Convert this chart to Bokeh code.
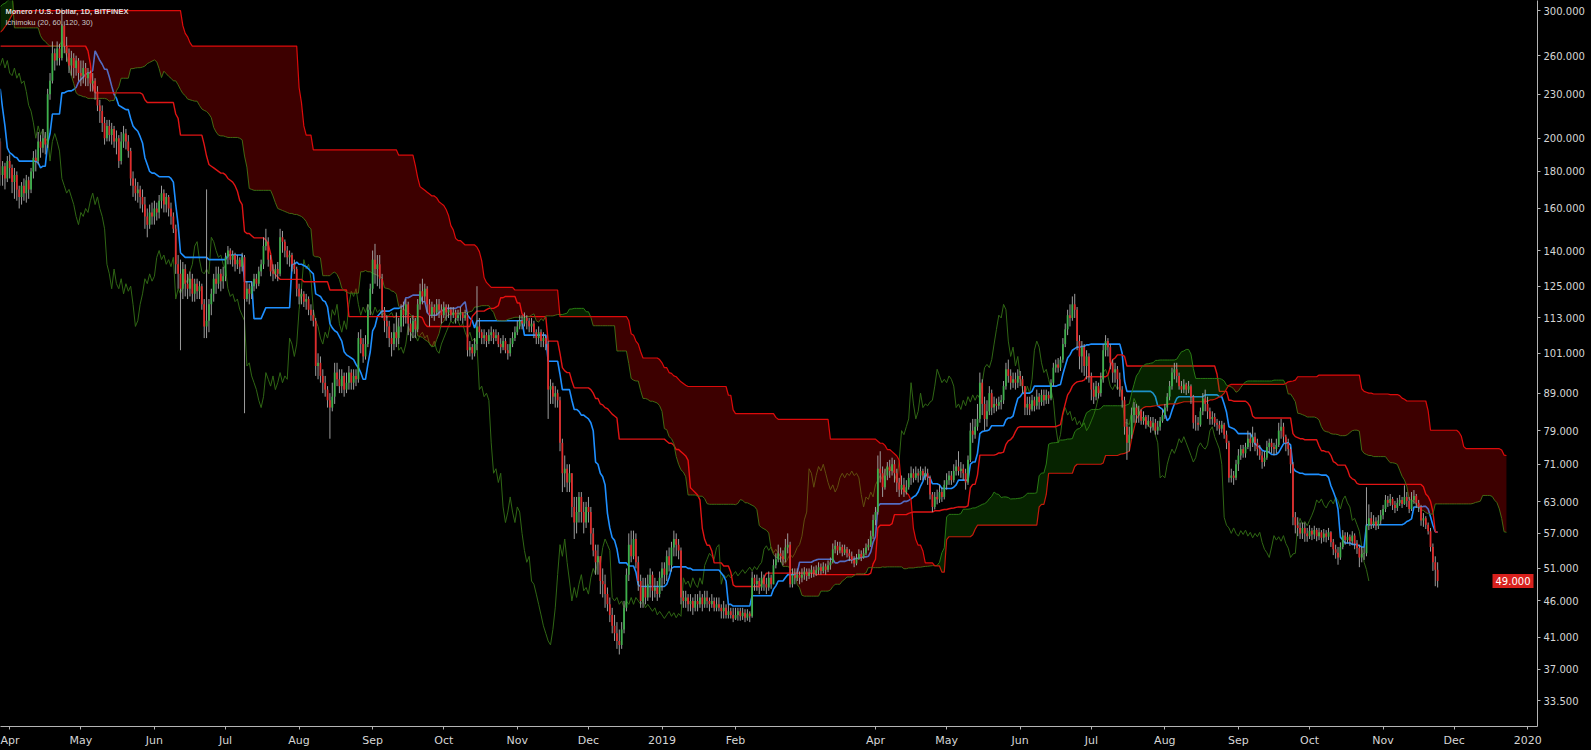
import numpy as np
import pandas as pd
from bokeh.plotting import figure
from bokeh.models import Range1d, FixedTicker, PrintfTickFormatter, Label
from bokeh.embed import file_html
from bokeh.resources import INLINE

try:
    from bokeh.models import GlobalInlineStyleSheet
except Exception:
    GlobalInlineStyleSheet = None

# ---------------- data: daily XMR/USD candles (close, high, low) ----------------
# history before the visible window (needed only by the Ichimoku look-back)
c_2017_10 = [70]
h_2017_10 = [74]
l_2017_10 = [62]
c_2017_11 = [74, 80, 86, 94, 100, 108, 116, 124, 132, 140, 148, 154, 160, 166, 172, 174, 178, 182, 186, 184, 190, 196, 194, 200, 206, 212, 208, 216, 222, 218]
h_2017_11 = [78, 83, 89, 97, 103, 111, 119, 127, 135, 143, 151, 157, 163, 169, 176, 179, 182, 186, 190, 189, 195, 200, 199, 205, 211, 217, 214, 221, 227, 224]
l_2017_11 = [66, 72, 78, 86, 94, 100, 106, 114, 122, 130, 138, 146, 152, 158, 164, 168, 171, 175, 179, 178, 183, 188, 187, 192, 198, 204, 200, 207, 213, 210]
c_2017_12 = [226, 232, 240, 248, 256, 262, 270, 262, 276, 284, 292, 300, 312, 318, 330, 342, 350, 362, 376, 388, 372, 332, 318, 340, 352, 346, 358, 366, 360, 372, 380]
h_2017_12 = [232, 238, 246, 254, 262, 268, 276, 270, 282, 290, 298, 308, 318, 326, 338, 350, 358, 370, 386, 398, 392, 374, 336, 346, 358, 356, 364, 372, 370, 378, 388]
l_2017_12 = [216, 222, 230, 238, 246, 252, 258, 254, 260, 272, 282, 290, 300, 306, 316, 328, 338, 348, 360, 372, 360, 318, 300, 314, 336, 338, 342, 354, 352, 358, 368]
c_2018_01 = [384, 396, 410, 404, 418, 428, 436, 420, 426, 410, 418, 424, 430, 414, 404, 330, 316, 340, 356, 372, 350, 330, 342, 336, 348, 332, 340, 352, 344, 316, 300]
h_2018_01 = [390, 402, 416, 414, 424, 436, 444, 440, 436, 430, 428, 434, 440, 436, 498, 470, 456, 450, 440, 430, 374, 354, 350, 348, 356, 350, 346, 358, 356, 348, 322]
l_2018_01 = [370, 378, 392, 394, 400, 414, 422, 412, 412, 402, 406, 410, 418, 404, 396, 318, 296, 310, 334, 350, 340, 318, 324, 326, 332, 322, 326, 336, 314, 302, 286]
c_2018_02 = [280, 256, 250, 226, 198, 210, 222, 238, 246, 240, 232, 262, 268, 298, 316, 322, 336, 312, 324, 330, 308, 292, 304, 296, 300, 318, 330, 338]
h_2018_02 = [304, 284, 266, 254, 232, 216, 234, 246, 252, 252, 244, 266, 272, 302, 322, 328, 344, 340, 330, 346, 332, 312, 310, 308, 306, 324, 336, 346]
l_2018_02 = [270, 236, 238, 220, 176, 156, 198, 214, 232, 230, 224, 228, 256, 264, 294, 308, 318, 302, 306, 318, 298, 280, 286, 284, 288, 294, 314, 326]
c_2018_03a = [344, 352, 358, 350, 366, 342, 312, 296, 268, 246, 218, 206, 202, 194, 198, 204, 196, 192, 200, 206, 202, 198, 204, 208, 202, 196, 198]
h_2018_03a = [350, 358, 364, 362, 434, 368, 346, 314, 280, 262, 240, 212, 208, 204, 202, 208, 206, 198, 204, 210, 208, 204, 208, 212, 210, 204, 202]
l_2018_03a = [330, 340, 346, 340, 102, 336, 306, 288, 262, 240, 214, 200, 196, 190, 190, 194, 192, 188, 190, 196, 196, 194, 196, 200, 196, 192, 192]

# visible candles: 2018-03-28 .. 2019-11-24
c_2018_03b = [178, 183, 176, 186]
h_2018_03b = [200, 186, 185, 189]
l_2018_03b = [172, 172, 170, 174]
c_2018_04 = [182, 174, 178, 170, 166, 172, 168, 175, 170, 180, 188, 186, 198, 194, 200, 196, 230, 240, 262, 256, 266, 258, 286, 268, 262, 252, 258, 250, 256, 246]
h_2018_04 = [190, 184, 182, 180, 172, 174, 176, 178, 177, 182, 192, 193, 204, 202, 206, 204, 234, 246, 272, 266, 272, 270, 302, 290, 276, 266, 264, 262, 260, 258]
l_2018_04 = [176, 168, 165, 164, 160, 162, 164, 163, 165, 168, 176, 180, 184, 188, 191, 190, 194, 226, 238, 248, 252, 252, 256, 262, 255, 246, 244, 242, 244, 240]
c_2018_05 = [244, 250, 242, 246, 238, 240, 232, 222, 218, 210, 200, 208, 202, 206, 198, 200, 186, 198, 203, 198, 192, 176, 172, 168, 170, 166, 162, 156, 152, 158, 156]
h_2018_05 = [256, 256, 254, 250, 248, 246, 242, 236, 226, 222, 214, 212, 212, 210, 208, 205, 202, 204, 208, 206, 202, 194, 180, 176, 174, 172, 170, 166, 160, 162, 163]
l_2018_05 = [236, 238, 236, 236, 232, 232, 226, 218, 210, 204, 196, 198, 198, 196, 194, 190, 182, 184, 194, 193, 188, 172, 166, 164, 163, 160, 158, 150, 146, 150, 152]
c_2018_06 = [160, 158, 164, 168, 162, 166, 160, 156, 150, 134, 130, 124, 132, 126, 124, 128, 122, 126, 123, 125, 118, 110, 112, 118, 122, 128, 126, 130, 127, 129]
h_2018_06 = [164, 163, 167, 172, 170, 168, 167, 163, 158, 152, 138, 136, 135, 134, 130, 131, 130, 128, 128, 127, 126, 120, 170, 120, 124, 130, 133, 133, 132, 133]
l_2018_06 = [152, 154, 155, 160, 158, 158, 156, 152, 148, 130, 124, 102, 120, 121, 120, 121, 119, 119, 120, 120, 116, 106, 106, 108, 114, 119, 122, 124, 123, 124]
c_2018_07 = [137, 140, 136, 138, 134, 136, 133, 137, 120, 124, 122, 125, 128, 126, 131, 134, 142, 144, 136, 131, 130, 132, 130, 146, 144, 140, 137, 138, 134, 132, 124]
h_2018_07 = [139, 142, 141, 140, 139, 138, 137, 139, 138, 127, 126, 127, 130, 130, 133, 136, 146, 150, 146, 138, 134, 134, 135, 150, 149, 145, 142, 140, 139, 136, 133]
l_2018_07 = [127, 134, 134, 133, 131, 132, 130, 131, 83.5, 119, 118, 120, 123, 124, 125, 129, 132, 140, 133, 129, 127, 128, 127, 129, 139, 137, 134, 133, 131, 130, 121]
c_2018_08 = [121, 122, 119, 120, 116, 114, 112, 97, 98, 94, 92, 90, 87, 85, 88, 95, 93, 91, 94, 90, 92, 95, 92, 94, 93, 106, 104, 100, 104, 116, 124]
h_2018_08 = [126, 124, 123, 122, 121, 118, 116, 113, 101, 100, 96, 94, 91, 89, 92, 98, 98, 96, 96, 95, 95, 97, 96, 96, 96, 108, 109, 106, 107, 118, 126]
l_2018_08 = [118, 118, 117, 116, 114, 112, 110, 94, 93, 92, 89, 88, 85, 77, 84, 86, 91, 89, 89, 88, 89, 90, 90, 90, 91, 92, 101, 98, 99, 103, 114]
c_2018_09 = [136, 132, 134, 128, 116, 112, 110, 106, 104, 108, 106, 110, 116, 114, 118, 111, 108, 112, 109, 118, 123, 121, 124, 118, 114, 117, 115, 118, 116, 114]
h_2018_09 = [140, 143, 138, 138, 130, 117, 114, 112, 108, 111, 115, 113, 118, 119, 120, 119, 113, 114, 113, 120, 126, 128, 126, 125, 120, 119, 118, 120, 120, 118]
l_2018_09 = [122, 126, 125, 124, 113, 108, 106, 103, 100, 102, 103, 104, 108, 110, 111, 107, 105, 106, 106, 108, 116, 118, 119, 115, 110, 113, 112, 114, 113, 111]
c_2018_10 = [117, 115, 116, 114, 115, 113, 114, 115, 113, 114, 102, 103, 101, 104, 110, 108, 106, 107, 105, 107, 108, 106, 107, 104, 103, 105, 102, 101, 104, 106, 108]
h_2018_10 = [119, 118, 118, 117, 117, 116, 116, 117, 115, 116, 115, 105, 104, 106, 125, 113, 109, 109, 108, 109, 110, 109, 109, 108, 106, 107, 106, 104, 106, 108, 110]
l_2018_10 = [113, 112, 113, 112, 113, 111, 112, 112, 111, 112, 100, 100, 99, 100, 102, 106, 104, 104, 103, 104, 105, 104, 105, 103, 101, 102, 101, 99, 100, 103, 105]
c_2018_11 = [110, 112, 111, 113, 112, 110, 111, 108, 106, 108, 105, 106, 104, 90, 91, 88, 89, 87, 76, 69, 70, 67, 69, 62, 59, 61, 64, 61, 59, 62]
h_2018_11 = [112, 114, 114, 115, 114, 113, 113, 112, 109, 110, 109, 108, 107, 105, 93, 92, 91, 90, 88, 77, 73, 71, 71, 69, 64, 64, 65, 65, 63, 63]
l_2018_11 = [107, 109, 109, 110, 109, 108, 108, 106, 104, 104, 103, 103, 102, 82, 86, 86, 85, 85, 74, 65, 66, 65, 65, 60, 56, 57, 59, 59, 57, 58]
c_2018_12 = [61, 57, 54, 52, 53, 49, 48.5, 47, 45.5, 44, 42.5, 41.5, 40.5, 40, 42, 45, 50, 55, 53, 56, 52, 49, 46, 48, 46.5, 48.5, 50, 47.5, 48, 47, 49.5]
h_2018_12 = [64, 62, 58, 55, 55, 53, 51, 50, 48, 46.5, 45, 44, 43, 42, 43, 46, 51, 57, 57.5, 57.5, 57, 53, 50, 49.5, 49.5, 50, 51, 50.5, 49.5, 49, 50.5]
l_2018_12 = [59, 55, 53, 50, 50, 47, 46.5, 45, 44.5, 43, 41.5, 40.5, 39.5, 38.8, 39.5, 41.5, 44.5, 49, 52, 52.5, 51, 47.5, 45, 45, 45.5, 46, 46.5, 46, 46.5, 46, 46.5]
c_2019_01 = [51, 50, 53, 51.5, 54.5, 56, 55, 54, 46.5, 46, 46.5, 45.5, 46, 45, 46, 45.5, 46.5, 45.5, 46.5, 46, 45.5, 46, 45, 45.5, 45, 44.5, 45, 44, 44.5, 44, 43.5]
h_2019_01 = [52, 52, 54, 54.5, 55.5, 57.5, 57, 56, 54.5, 47.5, 47.5, 47, 47, 46.5, 47, 47, 47.5, 47, 47.5, 47.5, 46.5, 47, 46.5, 46.5, 46.5, 45.5, 46, 45.5, 45.5, 45, 45]
l_2019_01 = [47.5, 48.5, 49, 50.5, 50.5, 53, 53, 52.5, 45.5, 45, 45, 44.5, 44.5, 44, 44.5, 44.5, 45, 44.5, 45, 45, 44.5, 45, 44.5, 44.5, 44.5, 43.5, 43.5, 43.5, 43.5, 43.5, 43]
c_2019_02 = [44, 44.5, 43.8, 44.3, 43.6, 44.2, 43.8, 49.5, 48.5, 49, 48, 49.5, 48.5, 48, 49.5, 48.5, 51.5, 52.5, 53.5, 53, 52.5, 54.5, 55, 48.5, 50, 49.5, 50, 49.5]
h_2019_02 = [45, 45, 45, 45, 44.8, 44.8, 44.5, 50.5, 50, 50, 49.5, 50.5, 50, 49.5, 50.5, 50, 52.5, 53.5, 55, 54.5, 54, 56, 57, 55.5, 51, 51, 51, 50.5]
l_2019_02 = [43.3, 43.2, 43.2, 43.3, 43, 43.2, 43, 43.6, 47.5, 47.5, 47, 47.5, 47.5, 47, 47.5, 47.8, 48.5, 51, 52, 52, 51.5, 52, 53.5, 48, 48, 48.5, 49, 48.5]
c_2019_03 = [50, 50.5, 49.8, 50.3, 50.8, 50.2, 50.7, 51.2, 50.6, 51.3, 50.8, 51.5, 52, 54.2, 54.8, 54, 54.6, 53.6, 54.2, 53.5, 53, 52.4, 51.8, 52.6, 53.4, 52.8, 53.5, 54.5, 55, 56.5, 59.5]
h_2019_03 = [51, 51.2, 51, 51, 51.5, 51.3, 51.5, 52, 51.8, 52, 51.8, 52.3, 52.8, 55.2, 55.8, 55.5, 55.5, 55, 55, 54.6, 54.2, 53.8, 53, 53.4, 54.2, 54, 54.4, 55.2, 56, 57.5, 60.5]
l_2019_03 = [48.8, 49.2, 49, 49.3, 49.5, 49.6, 49.8, 50, 50, 50.2, 50, 50.4, 50.8, 51.8, 53.5, 53.2, 53.5, 53, 53.2, 52.8, 52.2, 51.8, 51.2, 51.5, 52.4, 52.2, 52.6, 53.2, 54, 54.6, 56]
c_2019_04 = [61, 70, 69, 66, 68.5, 70.5, 69.5, 71, 69, 67, 65.5, 66.5, 65, 66, 68, 69, 68, 69, 68.5, 69.5, 68.5, 69, 68, 64.5, 62, 64, 63.5, 65, 64, 66.5]
h_2019_04 = [62, 73, 74, 70.5, 70, 71.5, 72, 72.5, 72, 70, 68, 68.5, 68, 67.5, 69, 70.5, 70, 70.5, 70, 70.5, 70, 70.5, 70, 68.5, 65, 65, 65.5, 66.5, 66, 67.5]
l_2019_04 = [58.5, 60.5, 67, 64, 65.5, 67.5, 68, 68.5, 67, 65, 64, 64.5, 64, 64.5, 65.5, 66.5, 67, 67.5, 67, 67.5, 67.5, 67.5, 66.5, 63.5, 61, 61.5, 62.5, 62.8, 63, 63.5]
c_2019_05 = [67.5, 68.5, 67.5, 69.5, 70.5, 69.5, 70, 69, 67, 72, 79, 78, 80, 82, 92, 86, 82, 84, 89, 85, 86, 85.5, 86.5, 87, 91, 96, 94, 92, 93, 92, 94]
h_2019_05 = [69, 69.5, 69.5, 71, 72, 74, 71.5, 71, 70, 73, 81, 82, 82, 86, 95, 93, 88, 87, 91, 90, 88, 87.5, 88, 88.5, 92.5, 98, 99, 96, 95, 95, 96]
l_2019_05 = [65.5, 66.5, 66.5, 67, 68.5, 68.5, 68, 67.5, 65.5, 66.5, 71.5, 76, 77, 79, 81, 83, 79, 80, 83, 83, 83.5, 84, 84.5, 84.5, 86, 90, 92, 90, 90.5, 90, 90.5]
c_2019_06 = [93, 91, 85, 86, 84.5, 87, 85.5, 88, 86.5, 88.5, 87, 88.5, 87.5, 92, 96.5, 97.5, 96.5, 99, 104, 109, 114, 113, 118, 116, 105, 100, 103, 97, 100, 94]
h_2019_06 = [95.5, 94, 91, 88, 88, 88.5, 88, 90, 89, 90, 90, 90, 89.5, 93, 98, 99, 99.5, 100, 106, 111, 116, 118, 121, 122, 117, 107, 105, 104, 102, 101]
l_2019_06 = [91, 89, 83, 83, 83, 84, 84, 84.5, 84.5, 85.5, 85.5, 86, 86, 87, 91, 95, 95, 95.5, 98, 103, 107, 110, 112, 113, 102, 96, 95, 94, 93, 92]
c_2019_07 = [90, 88, 91, 89, 93, 102, 105, 103, 98, 95, 96, 93, 90, 87, 80, 76, 78, 83, 85, 83, 84, 81.5, 82.5, 80.5, 81.5, 80, 81, 79, 80, 81.5, 83]
h_2019_07 = [95, 92, 92.5, 92, 95, 104, 107, 106, 104, 99, 98, 97, 95, 91, 88, 82, 80, 85, 86.5, 86, 85.5, 84.5, 84, 83, 83, 82.5, 82.5, 82, 81.5, 82.5, 84.5]
l_2019_07 = [87, 86, 87, 87.5, 88, 92, 100, 100, 96, 92, 92, 90, 88, 85, 78, 72, 74, 77, 81, 81, 81, 80.5, 80.5, 79.5, 80, 78.5, 79, 78, 78, 79, 81]
c_2019_08 = [85, 88, 91, 95, 96, 94, 91, 90, 91.5, 90, 91, 88, 81, 81, 80.5, 84, 87.5, 86, 84, 82, 82.5, 81, 80.5, 79.5, 80.5, 78, 76, 68, 68.5, 68, 71]
h_2019_08 = [86, 89, 92.5, 96.5, 98, 98, 95, 92.5, 93, 92, 92.5, 91.5, 88.5, 83, 82.5, 85, 89, 90, 88, 85, 84, 83.5, 82, 81.5, 81.5, 81, 79, 76.5, 70, 69.5, 72]
l_2019_08 = [82, 84, 87, 90, 93, 92, 90, 89, 89, 88.5, 89, 86, 79.5, 79, 79, 80, 83, 84, 82, 80.5, 80.5, 80, 79, 78, 78.5, 77, 74.5, 67, 67, 66.5, 67.5]
c_2019_09 = [73, 74.5, 73.5, 75, 77, 76, 77.5, 76, 74.5, 73, 71.5, 72.5, 75, 76, 75, 74.5, 75.5, 79, 80, 77.5, 76, 74.5, 71, 60, 58.5, 58, 57, 58, 57, 56.5]
h_2019_09 = [74.5, 75.5, 75.5, 76, 79, 78.5, 80, 78.5, 77, 75.5, 74, 74, 76.5, 77, 77, 76, 77, 81, 82, 81, 78, 77, 75, 71.5, 61, 60, 59, 59, 59, 58]
l_2019_09 = [69.5, 72, 72.5, 72.5, 74.5, 74, 75, 74, 73, 72, 70, 70.5, 72, 73.5, 73.5, 73, 73.5, 75, 77, 76, 74, 73, 69, 58.5, 57, 56.5, 56, 56, 55.5, 55.5]
c_2019_10 = [57.5, 56.8, 57.6, 56.5, 57.2, 56.2, 57, 56.4, 57.2, 55.4, 54.2, 53.6, 52.8, 54.6, 56.6, 55.8, 56.4, 55.6, 56.6, 55.2, 54.4, 52.8, 53.4, 53.5, 58.4, 59.8, 58.6, 59.2, 58.4, 59.4, 60.4]
h_2019_10 = [58.5, 58, 58.4, 58, 58, 57.6, 57.8, 57.6, 58, 57.4, 56, 55, 54.6, 55.4, 57.6, 57.2, 57.2, 56.8, 57.4, 57, 55.8, 55, 54.6, 54.6, 66, 62.5, 61, 60.4, 60, 60.4, 61.4]
l_2019_10 = [56, 55.8, 56, 55.6, 55.8, 55.2, 55.5, 55.4, 55.8, 54.6, 53.2, 52.6, 51.6, 52.4, 54.2, 55, 55.2, 54.8, 55, 54.2, 53.4, 51.2, 52, 52.4, 53, 57.6, 57.8, 58, 57.6, 57.8, 58.6]
c_2019_11 = [61.6, 63.4, 62.8, 63.6, 62.4, 61.8, 62.8, 63.4, 62.6, 64, 63.2, 61.6, 63.4, 64.2, 62.8, 62, 59.4, 59.8, 58.6, 57.4, 54.6, 52, 50.8, 49]
h_2019_11 = [62.4, 64.4, 64.2, 64.6, 64, 63.2, 63.8, 64.4, 64, 66.4, 65, 64, 65, 65.4, 64.6, 63.4, 62.4, 60.8, 60.2, 59, 58, 55.2, 53, 52]
l_2019_11 = [59.6, 61, 62, 62.2, 61.4, 60.8, 61.2, 62.2, 61.8, 62.4, 62, 60.8, 61.2, 62.6, 61.8, 61, 58.4, 58.2, 57.8, 56.8, 53.8, 50.6, 48.2, 48]

first_date = "2017-10-31"
first_visible = "2018-03-28"
axis_origin = "2018-04-01"

y_tick_values = [33.5, 37, 41, 46, 51, 57, 63, 71, 79, 89, 101, 113, 125, 140, 160, 180, 200, 230, 260, 300]
x_tick_dates = ["2018-04-01", "2018-05-01", "2018-06-01", "2018-07-01", "2018-08-01", "2018-09-01",
                "2018-10-01", "2018-11-01", "2018-12-01", "2019-01-01", "2019-02-01", "2019-04-01",
                "2019-05-01", "2019-06-01", "2019-07-01", "2019-08-01", "2019-09-01", "2019-10-01",
                "2019-11-01", "2019-12-01", "2020-01-01"]
x_tick_labels = ["Apr", "May", "Jun", "Jul", "Aug", "Sep", "Oct", "Nov", "Dec", "2019", "Feb", "Apr",
                 "May", "Jun", "Jul", "Aug", "Sep", "Oct", "Nov", "Dec", "2020"]

ichimoku_conv, ichimoku_base, ichimoku_span_b, ichimoku_disp = 20, 60, 120, 30
# ------------------------------------------------------------------------------

closes = np.array(c_2017_10 + c_2017_11 + c_2017_12 + c_2018_01 + c_2018_02 + c_2018_03a + c_2018_03b +
                  c_2018_04 + c_2018_05 + c_2018_06 + c_2018_07 + c_2018_08 + c_2018_09 + c_2018_10 +
                  c_2018_11 + c_2018_12 + c_2019_01 + c_2019_02 + c_2019_03 + c_2019_04 + c_2019_05 +
                  c_2019_06 + c_2019_07 + c_2019_08 + c_2019_09 + c_2019_10 + c_2019_11, dtype=float)
highs = np.array(h_2017_10 + h_2017_11 + h_2017_12 + h_2018_01 + h_2018_02 + h_2018_03a + h_2018_03b +
                 h_2018_04 + h_2018_05 + h_2018_06 + h_2018_07 + h_2018_08 + h_2018_09 + h_2018_10 +
                 h_2018_11 + h_2018_12 + h_2019_01 + h_2019_02 + h_2019_03 + h_2019_04 + h_2019_05 +
                 h_2019_06 + h_2019_07 + h_2019_08 + h_2019_09 + h_2019_10 + h_2019_11, dtype=float)
lows = np.array(l_2017_10 + l_2017_11 + l_2017_12 + l_2018_01 + l_2018_02 + l_2018_03a + l_2018_03b +
                l_2018_04 + l_2018_05 + l_2018_06 + l_2018_07 + l_2018_08 + l_2018_09 + l_2018_10 +
                l_2018_11 + l_2018_12 + l_2019_01 + l_2019_02 + l_2019_03 + l_2019_04 + l_2019_05 +
                l_2019_06 + l_2019_07 + l_2019_08 + l_2019_09 + l_2019_10 + l_2019_11, dtype=float)

n = len(closes)
dates = pd.Timestamp(first_date) + pd.to_timedelta(np.arange(n), unit="D")
origin = pd.Timestamp(axis_origin)
day = np.asarray((dates - origin).days, dtype=float)

opens = np.r_[closes[0], closes[:-1]]
highs = np.maximum.reduce([highs, opens, closes])
lows = np.minimum.reduce([lows, opens, closes])

H = pd.Series(highs)
L = pd.Series(lows)


def donchian(period):
    return ((H.rolling(period).max() + L.rolling(period).min()) / 2.0).values


conv = donchian(ichimoku_conv)
base = donchian(ichimoku_base)
lead1 = (conv + base) / 2.0
lead2 = donchian(ichimoku_span_b)
shift = ichimoku_disp - 1

vis = dates >= pd.Timestamp(first_visible)
dv = day[vis]
ov, hv, lv, cv = opens[vis], highs[vis], lows[vis], closes[vis]

# ---------------- screen calibration (reference pixel geometry) ----------------
PX_PER_DAY = 2.372
X_OF_ORIGIN = 9.2
PX_PER_LN = 314.8
Y_OF_300 = 10.1


def day_at(xpix):
    return (xpix - X_OF_ORIGIN) / PX_PER_DAY


def price_at(ypix):
    return 300.0 * np.exp(-(ypix - Y_OF_300) / PX_PER_LN)


FRAME_W, FRAME_H = 1537, 726
x0 = day_at(0)
x1 = day_at(FRAME_W)
y_top = price_at(0)
y_bot = price_at(FRAME_H)

BG = "#000000"
p = figure(frame_width=FRAME_W, frame_height=FRAME_H,
           x_range=Range1d(x0, x1), y_range=Range1d(y_bot, y_top),
           y_axis_type="log", y_axis_location="right",
           output_backend="svg", toolbar_location=None,
           background_fill_color=BG, border_fill_color=BG,
           min_border=0, min_border_left=0, min_border_top=0,
           min_border_right=54, min_border_bottom=24)
p.outline_line_color = None
p.grid.visible = False
if GlobalInlineStyleSheet is not None:
    p.stylesheets = [GlobalInlineStyleSheet(css="html, body { background-color: #000000; }")]

# lagging span
p.line(day[vis] - shift, closes[vis], line_color="#2f6614", line_width=1)

# conversion / base lines
p.line(dv, conv[vis], line_color="#1e8fff", line_width=1.6)
p.line(dv, base[vis], line_color="#e01414", line_width=1.4)

# leading spans (shifted forward)
span_mask = (~np.isnan(lead1)) & (~np.isnan(lead2)) & (day + shift >= x0 - 3)
sx = day[span_mask] + shift
a = lead1[span_mask]
b = lead2[span_mask]
p.line(sx, a, line_color="#2b7516", line_width=1)
p.line(sx, b, line_color="#d80c0c", line_width=1.2)
top = np.maximum(a, b)
p.varea(x=sx, y1=a, y2=top, fill_color="#ff0000", fill_alpha=0.24)
p.varea(x=sx, y1=b, y2=top, fill_color="#1aa000", fill_alpha=0.22)

# candles
up = cv >= ov
body_colors = np.where(up, "#3daf4b", "#e12a2a")
p.segment(x0=dv, y0=lv, x1=dv, y1=hv, line_color="#9d9d9d", line_width=1)
p.vbar(x=dv, width=0.75, top=np.maximum(ov, cv), bottom=np.minimum(ov, cv),
       fill_color=body_colors, line_color=None)

# axes
ya = p.yaxis[0]
ya.ticker = FixedTicker(ticks=y_tick_values)
ya.formatter = PrintfTickFormatter(format="%.3f")
ya.axis_line_color = "#b4b4b4"
ya.major_tick_line_color = "#b4b4b4"
ya.minor_tick_line_color = None
ya.major_tick_out = 3
ya.major_tick_in = 0
ya.major_label_standoff = 3
ya.major_label_text_color = "#d6d6d6"
ya.major_label_text_font = "DejaVu Sans"
ya.major_label_text_font_size = "10px"

tick_days = [int((pd.Timestamp(t) - origin).days) for t in x_tick_dates]
xa = p.xaxis[0]
xa.ticker = FixedTicker(ticks=tick_days)
xa.major_label_overrides = {d: lab for d, lab in zip(tick_days, x_tick_labels)}
xa.axis_line_color = "#b4b4b4"
xa.major_tick_line_color = "#b4b4b4"
xa.minor_tick_line_color = None
xa.major_tick_out = 3
xa.major_tick_in = 0
xa.major_label_standoff = 4
xa.major_label_text_color = "#d6d6d6"
xa.major_label_text_font = "DejaVu Sans"
xa.major_label_text_font_size = "11px"

# header texts
p.add_layout(Label(x=day_at(5), y=price_at(11), text="Monero / U.S. Dollar, 1D, BITFINEX",
                   text_font="Liberation Sans", text_font_size="7.5px", text_font_style="bold",
                   text_color="#dcdcdc", text_baseline="alphabetic", text_align="left"))
p.add_layout(Label(x=day_at(5), y=price_at(21.5), text="Ichimoku (20, 60, 120, 30)",
                   text_font="Liberation Sans", text_font_size="7.5px",
                   text_color="#c8c8c8", text_baseline="alphabetic", text_align="left"))

# last price tag (kept inside the plot frame, flush with the price scale)
last_close = float(closes[-1])
p.add_layout(Label(x=x1, y=last_close, x_offset=-4, text=f"{last_close:.3f}",
                   text_font="DejaVu Sans", text_font_size="10px", text_color="#ffffff",
                   text_baseline="middle", text_align="right",
                   background_fill_color="#d8211d", padding=3))

open("out.html", "w").write(file_html(p, INLINE))
